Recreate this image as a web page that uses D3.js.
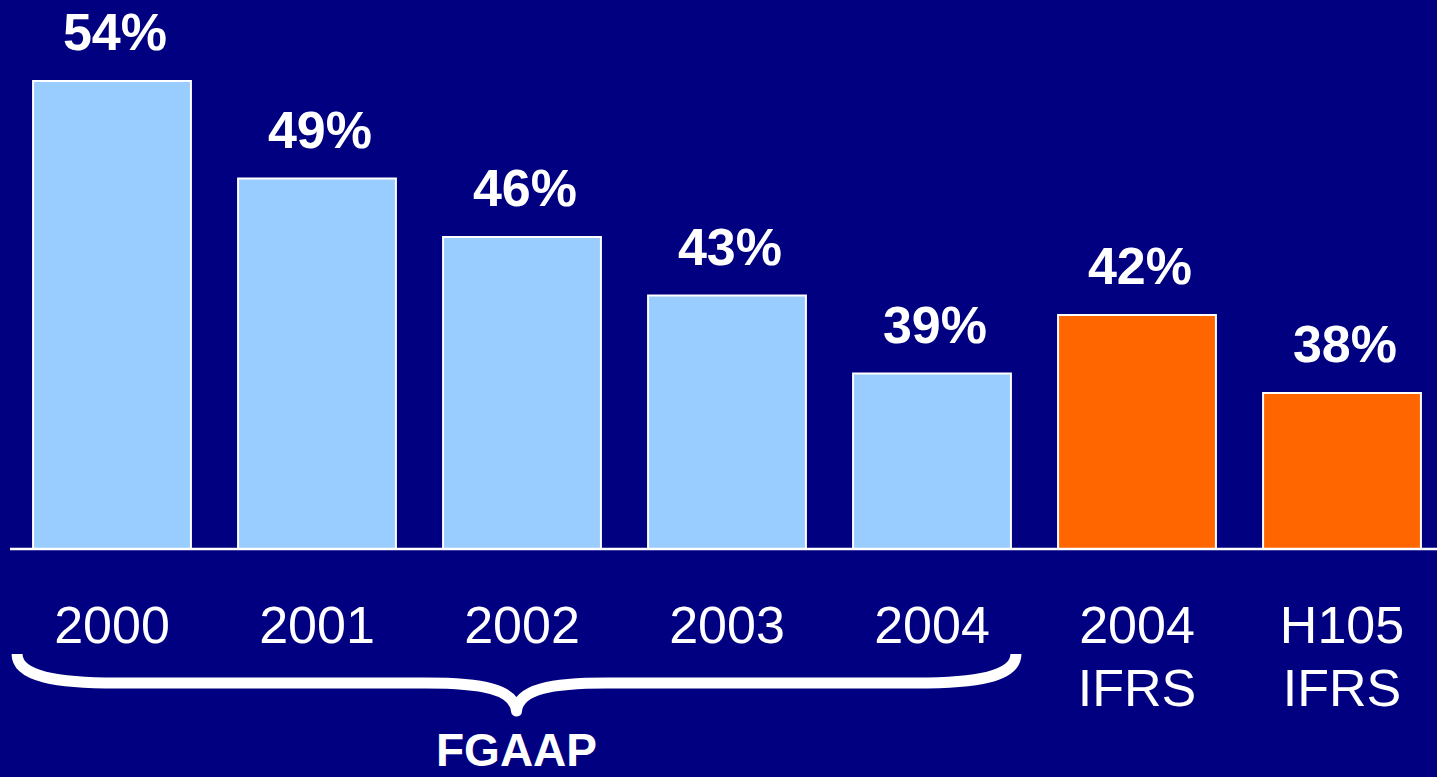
<!DOCTYPE html>
<html>
<head>
<meta charset="utf-8">
<script src="https://cdn.jsdelivr.net/npm/d3@7"></script>
<style>
  html, body { margin: 0; padding: 0; background: #000080; }
  svg { display: block; }
</style>
</head>
<body>
<svg id="chart" width="1437" height="777"></svg>
<script>
// ---- Data ----
const categories = ["2000", "2001", "2002", "2003", "2004", "2004 IFRS", "H105 IFRS"];
const categoryLines = [["2000"], ["2001"], ["2002"], ["2003"], ["2004"], ["2004", "IFRS"], ["H105", "IFRS"]];
const values = [54, 49, 46, 43, 39, 42, 38];
const valueLabels = ["54%", "49%", "46%", "43%", "39%", "42%", "38%"];
const groups = ["FGAAP", "FGAAP", "FGAAP", "FGAAP", "FGAAP", "IFRS", "IFRS"];
const groupColors = { FGAAP: "#99CCFF", IFRS: "#FF6600" };
const braceLabel = "FGAAP";
const braceCategories = ["2000", "2004"];
const yDomain = [30, 54];

(function () {
// ---- Layout ----
const W = 1437, H = 777;
const svg = d3.select("#chart");
svg.append("rect").attr("width", W).attr("height", H).attr("fill", "#000080");

const x = d3.scaleBand()
  .domain(categories)
  .range([9.5, 1444.5])
  .paddingInner(0.23)
  .paddingOuter(0.115);

const baseY = 549;
const y = d3.scaleLinear().domain(yDomain).range([baseY, 81]);

const font = "Arial, 'Liberation Sans', Helvetica, sans-serif";

// Bars
svg.append("g").selectAll("rect")
  .data(categories)
  .join("rect")
  .attr("x", d => x(d))
  .attr("y", (d, i) => y(values[i]))
  .attr("width", x.bandwidth())
  .attr("height", (d, i) => baseY - y(values[i]))
  .attr("fill", (d, i) => groupColors[groups[i]])
  .attr("stroke", "#ffffff")
  .attr("stroke-width", 2);

// Baseline
svg.append("line")
  .attr("x1", 10).attr("x2", W)
  .attr("y1", baseY).attr("y2", baseY)
  .attr("stroke", "#ffffff").attr("stroke-width", 2.5);

// Value labels
svg.append("g").selectAll("text")
  .data(categories)
  .join("text")
  .attr("x", d => x(d) + x.bandwidth() / 2 + 3)
  .attr("y", (d, i) => y(values[i]) - 31)
  .attr("text-anchor", "middle")
  .attr("fill", "#ffffff")
  .attr("font-family", font)
  .attr("font-weight", "bold")
  .attr("font-size", 52)
  .text((d, i) => valueLabels[i]);

// Category labels
const catG = svg.append("g");
categories.forEach((c, i) => {
  const t = catG.append("text")
    .attr("x", x(c) + x.bandwidth() / 2)
    .attr("y", 643)
    .attr("text-anchor", "middle")
    .attr("fill", "#ffffff")
    .attr("font-family", font)
    .attr("font-size", 52);
  categoryLines[i].forEach((line, j) => {
    t.append("tspan")
      .attr("x", x(c) + x.bandwidth() / 2)
      .attr("dy", j === 0 ? 0 : 63)
      .text(line);
  });
});

// Brace under FGAAP categories
const bx0 = x(braceCategories[0]) - 16;
const bx1 = x(braceCategories[1]) + x.bandwidth() + 5;
const bmid = (bx0 + bx1) / 2;
const yTop = 654, yMid = 683, yTip = 715;
const p = d3.path();
p.moveTo(bx0, yTop);
p.bezierCurveTo(bx0, yMid - 6, bx0 + 40, yMid, bx0 + 100, yMid);
p.lineTo(bmid - 90, yMid);
p.bezierCurveTo(bmid - 35, yMid, bmid - 2, yMid + 6, bmid, yTip - 4);
p.bezierCurveTo(bmid + 2, yMid + 6, bmid + 35, yMid, bmid + 90, yMid);
p.lineTo(bx1 - 100, yMid);
p.bezierCurveTo(bx1 - 40, yMid, bx1, yMid - 6, bx1, yTop);
svg.append("path")
  .attr("d", p.toString())
  .attr("fill", "none")
  .attr("stroke", "#ffffff")
  .attr("stroke-width", 11)
  .attr("stroke-linejoin", "round");

svg.append("text")
  .attr("x", bmid)
  .attr("y", 766)
  .attr("text-anchor", "middle")
  .attr("fill", "#ffffff")
  .attr("font-family", font)
  .attr("font-weight", "bold")
  .attr("font-size", 46)
  .text(braceLabel);
})();
</script>
</body>
</html>
